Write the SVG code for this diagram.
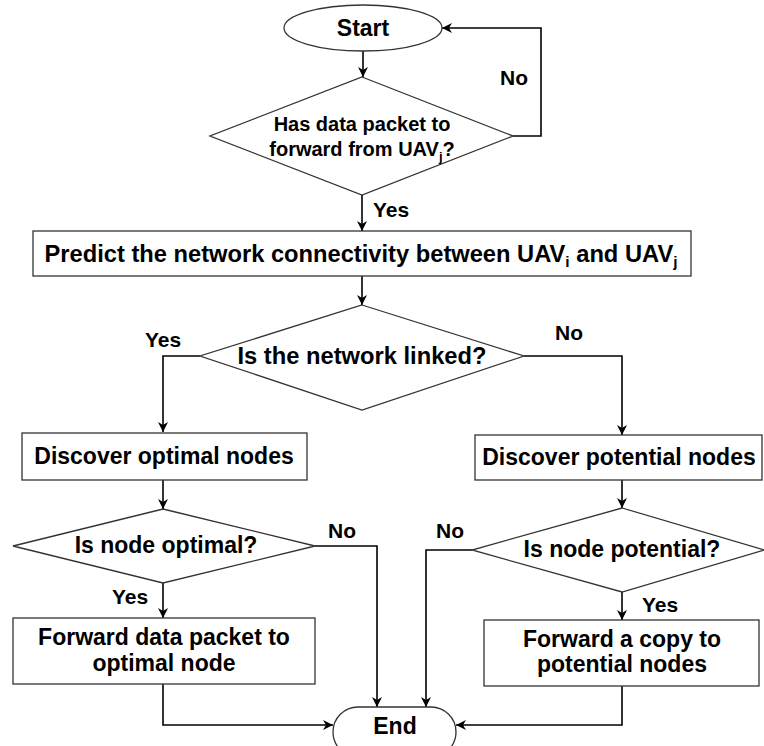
<svg xmlns="http://www.w3.org/2000/svg" width="764" height="746" viewBox="0 0 764 746">
  <defs>
    <marker id="arrow" viewBox="0 0 10 10" refX="10" refY="5" markerWidth="10" markerHeight="10" markerUnits="userSpaceOnUse" orient="auto">
      <path d="M0,0 L10,5 L0,10 L3,5 z" fill="#000"/>
    </marker>
    <style>
      .shape { fill: #fff; stroke: #333; stroke-width: 1.3; }
      .edge { fill: none; stroke: #000; stroke-width: 1.6; marker-end: url(#arrow); }
      text { font-family: "Liberation Sans", Arial, sans-serif; font-weight: bold; fill: #000; text-anchor: middle; }
      .t23 { font-size: 23px; }
      .t20 { font-size: 20px; }
      .lbl { font-size: 21px; text-anchor: start; }
      .sub { font-size: 15px; }
      .sub20 { font-size: 13px; }
    </style>
  </defs>

  <rect width="764" height="746" fill="#fff"/>

  <!-- connectors and branch labels -->
  <g id="connectors">
    <path class="edge" d="M363,51 L363,77"/>
    <path class="edge" d="M513,136 L541,136 L541,28 L442,28"/>
    <path class="edge" d="M362,195 L362,231"/>
    <path class="edge" d="M362,276 L362,305"/>
    <path class="edge" d="M200,356 L163,356 L163,432"/>
    <path class="edge" d="M524,356 L622,356 L622,435"/>
    <path class="edge" d="M163,480 L163,509"/>
    <path class="edge" d="M622,480 L622,508"/>
    <path class="edge" d="M315,546 L377,546 L377,707"/>
    <path class="edge" d="M163,583 L163,618"/>
    <path class="edge" d="M472,550 L426,550 L426,707"/>
    <path class="edge" d="M622,592 L622,620"/>
    <path class="edge" d="M163,684 L163,725 L333,725"/>
    <path class="edge" d="M622,686 L622,725 L456,725"/>

    <text class="lbl" x="500" y="85">No</text>
    <text class="lbl" x="373" y="217">Yes</text>
    <text class="lbl" x="145" y="347">Yes</text>
    <text class="lbl" x="555" y="340">No</text>
    <text class="lbl" x="328" y="538">No</text>
    <text class="lbl" x="112" y="604">Yes</text>
    <text class="lbl" x="436" y="538">No</text>
    <text class="lbl" x="642" y="612">Yes</text>
  </g>

  <g id="start">
    <ellipse class="shape" cx="363" cy="28" rx="79" ry="23"/>
    <text class="t23" x="363" y="36">Start</text>
  </g>

  <g id="has-packet">
    <polygon class="shape" points="362,77 513,136 362,195 210,136"/>
    <text class="t20" x="362" y="131">Has data packet to</text>
    <text class="t20" x="362" y="156">forward from UAV<tspan class="sub20" dy="5">j</tspan><tspan dy="-5">?</tspan></text>
  </g>

  <g id="predict">
    <rect class="shape" x="33" y="231" width="658" height="45"/>
    <text class="t23" x="361" y="262" textLength="633" lengthAdjust="spacingAndGlyphs">Predict the network connectivity between UAV<tspan class="sub" dy="5">i</tspan><tspan dy="-5"> and UAV</tspan><tspan class="sub" dy="5">j</tspan></text>
  </g>

  <g id="linked">
    <polygon class="shape" points="362,305 524,356 362,410 200,356"/>
    <text class="t23" x="362" y="364" textLength="249" lengthAdjust="spacingAndGlyphs">Is the network linked?</text>
  </g>

  <g id="discover-optimal">
    <rect class="shape" x="22" y="433" width="285" height="47"/>
    <text class="t23" x="164" y="464">Discover optimal nodes</text>
  </g>

  <g id="discover-potential">
    <rect class="shape" x="475" y="435" width="287" height="45"/>
    <text class="t23" x="619" y="465">Discover potential nodes</text>
  </g>

  <g id="node-optimal">
    <polygon class="shape" points="163,509 315,546 163,583 13,546"/>
    <text class="t23" x="166" y="553">Is node optimal?</text>
  </g>

  <g id="node-potential">
    <polygon class="shape" points="622,508 764,550 622,592 472,550"/>
    <text class="t23" x="622" y="557">Is node potential?</text>
  </g>

  <g id="forward-optimal">
    <rect class="shape" x="13" y="618" width="302" height="66"/>
    <text class="t23" x="164" y="645">Forward data packet to</text>
    <text class="t23" x="164" y="671">optimal node</text>
  </g>

  <g id="forward-copy">
    <rect class="shape" x="484" y="620" width="275" height="66"/>
    <text class="t23" x="622" y="647">Forward a copy to</text>
    <text class="t23" x="622" y="672">potential nodes</text>
  </g>

  <g id="end">
    <rect class="shape" x="333" y="707" width="123" height="50" rx="25" ry="25"/>
    <text class="t23" x="395" y="734">End</text>
  </g>
</svg>
